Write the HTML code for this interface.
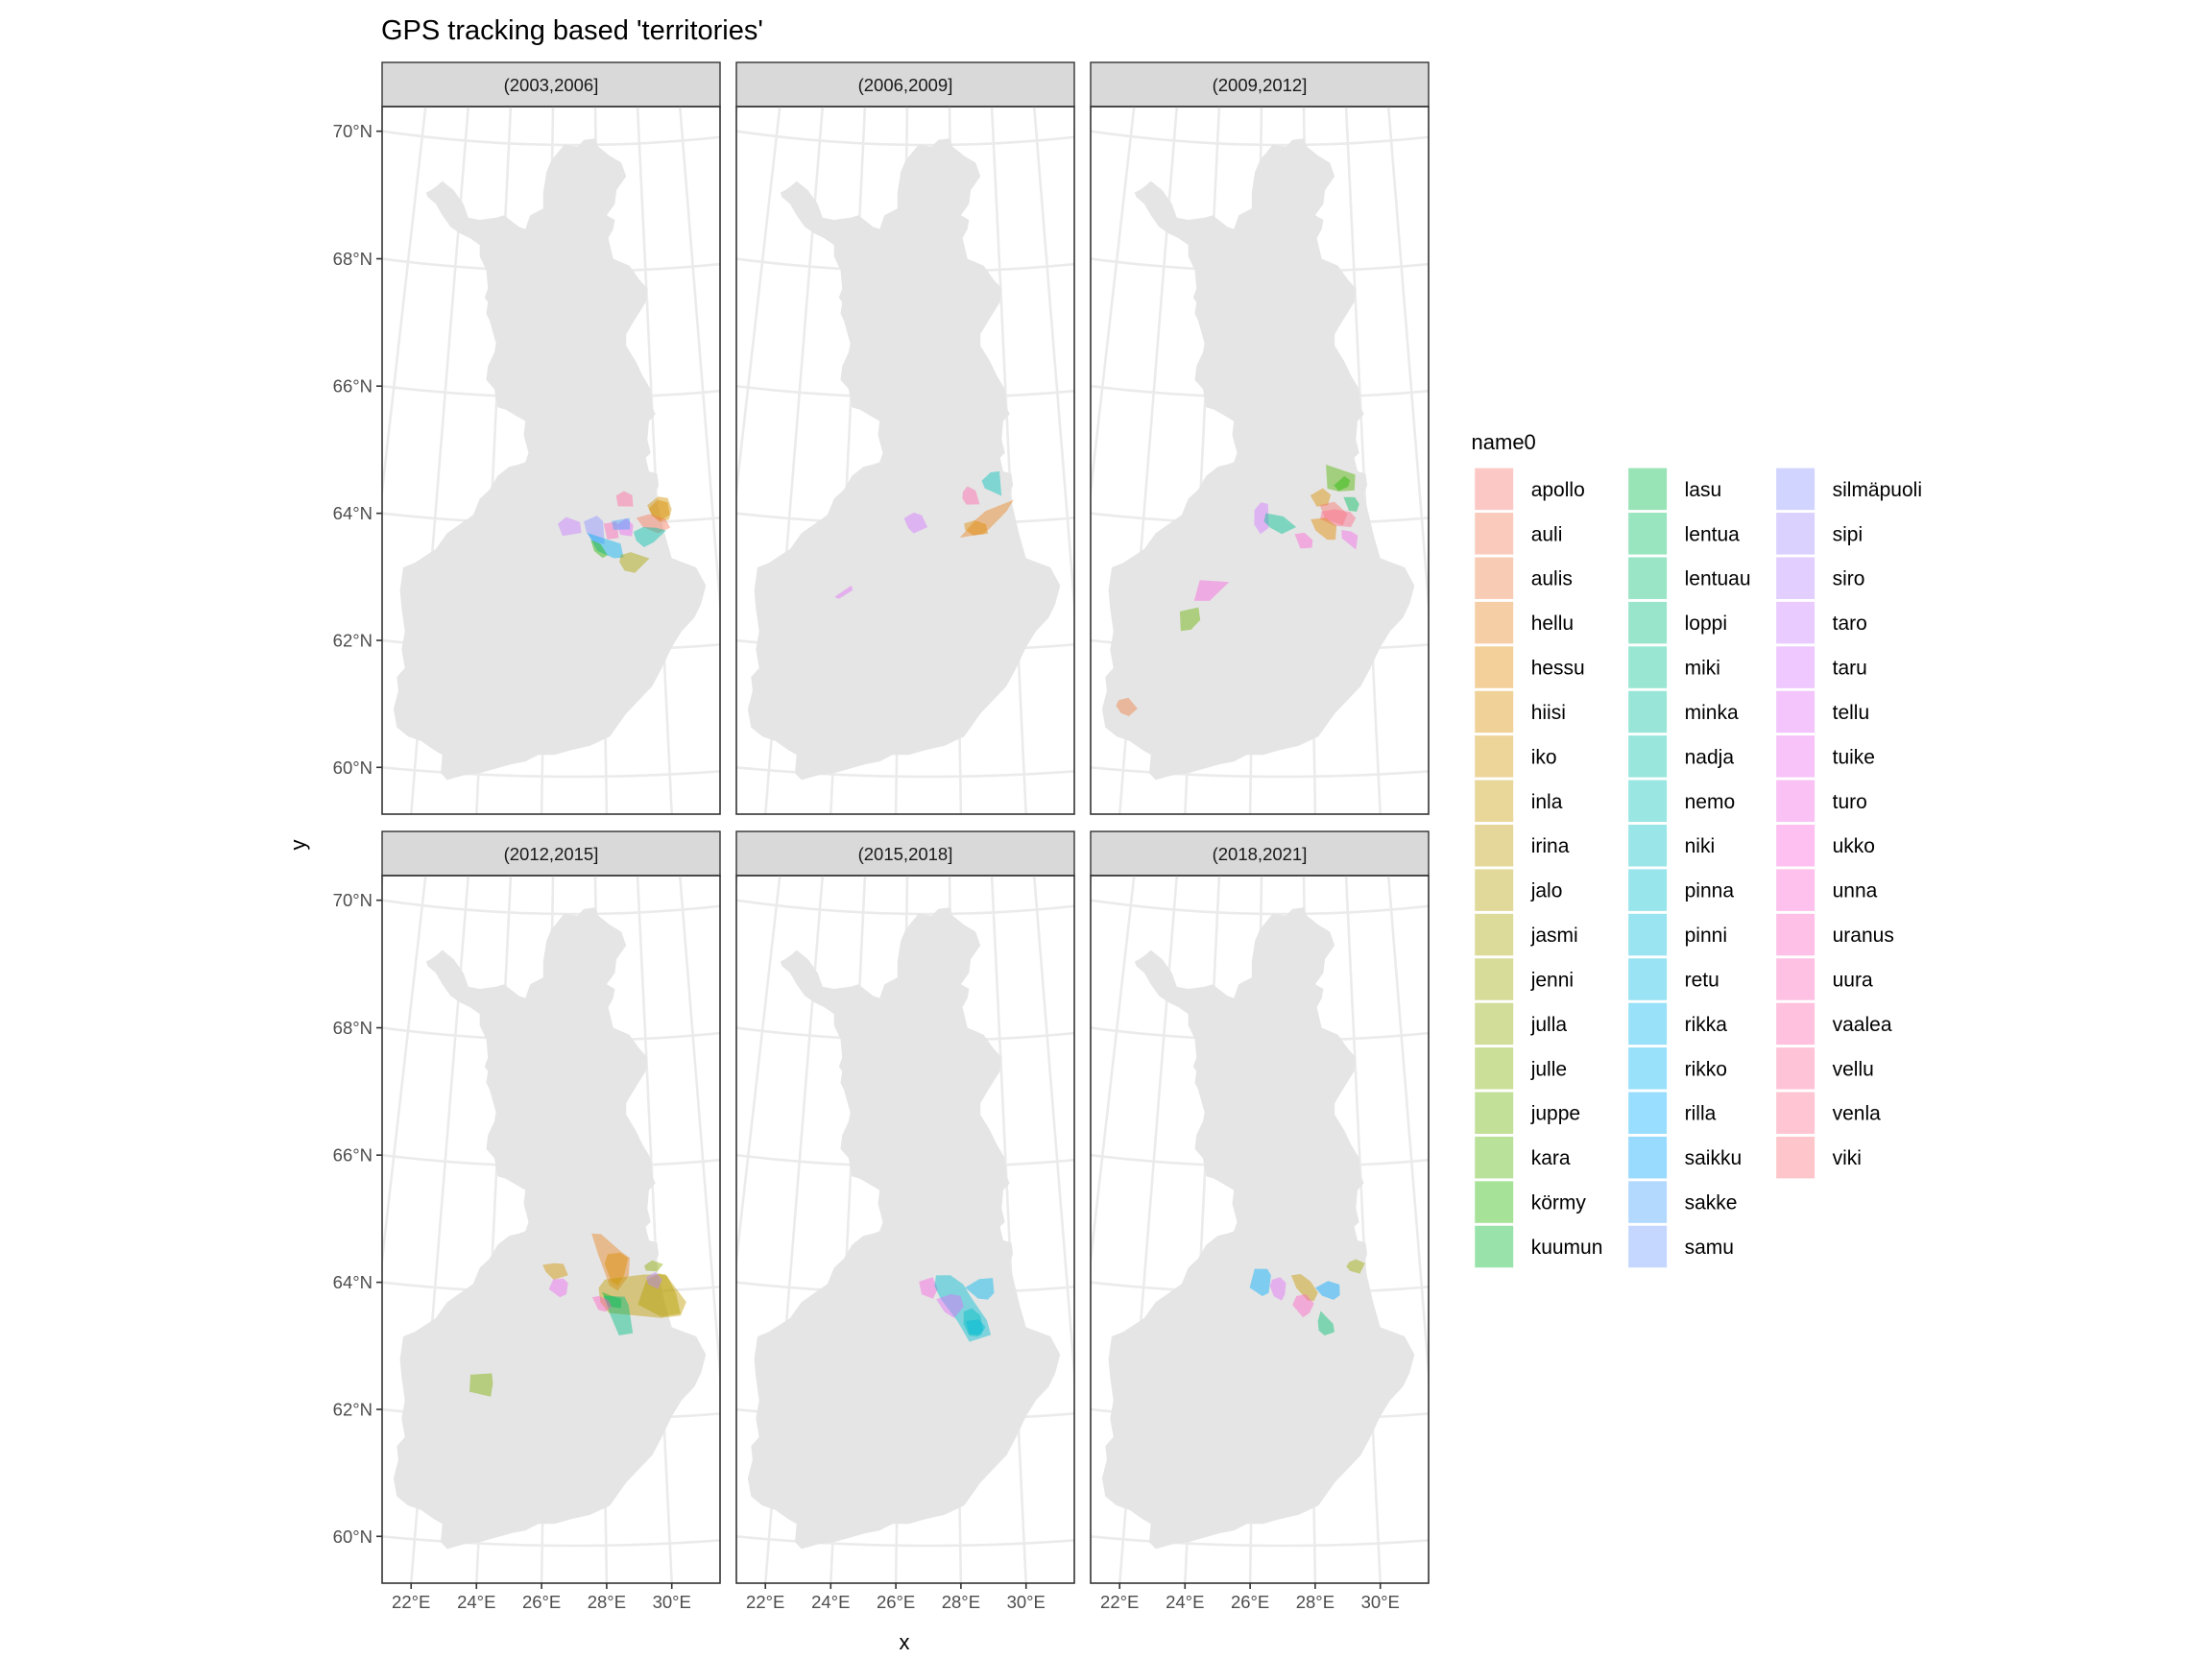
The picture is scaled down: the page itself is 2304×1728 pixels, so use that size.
<!DOCTYPE html>
<html><head><meta charset="utf-8"><style>
html,body{margin:0;padding:0;background:#fff;width:2304px;height:1728px;overflow:hidden;}
svg{display:block;font-family:"Liberation Sans",sans-serif;position:absolute;left:0;top:0;}
</style></head><body>
<svg id="chart" xmlns="http://www.w3.org/2000/svg" width="2304" height="1728" viewBox="0 0 2304 1728">
<rect x="0" y="0" width="2304" height="1728" fill="#fff"/>
<text x="397" y="41" font-size="29" fill="#000">GPS tracking based 'territories'</text>
<text x="942" y="1718" font-size="22" text-anchor="middle" fill="#000">x</text>
<text x="0" y="0" font-size="22" text-anchor="middle" fill="#000" transform="translate(318,880) rotate(-90)">y</text>
<defs id="defs"></defs>
<g id="panels"></g>
<g id="legend"></g>
</svg>
<script>
// ---- data ----
const panelLabels = ["(2003,2006]","(2006,2009]","(2009,2012]","(2012,2015]","(2015,2018]","(2018,2021]"];
const legendNames = ["apollo","auli","aulis","hellu","hessu","hiisi","iko","inla","irina","jalo","jasmi","jenni","julla","julle","juppe","kara","körmy","kuumun","lasu","lentua","lentuau","loppi","miki","minka","nadja","nemo","niki","pinna","pinni","retu","rikka","rikko","rilla","saikku","sakke","samu","silmäpuoli","sipi","siro","taro","taru","tellu","tuike","turo","ukko","unna","uranus","uura","vaalea","vellu","venla","viki"];
const latTicks = [60,62,64,66,68,70];
const lonTicks = [22,24,26,28,30];
const tPanel = [0,0,0,0,0,0,0,0,0,0,0,0,0, 1,1,1,1,1,1, 2,2,2,2,2,2,2,2,2,2,2,2,2,2, 3,3,3,3,3,3,3,3,3,3,3,3, 4,4,4,4,4,4, 5,5,5,5,5,5,5];
const tName = ["vellu","iko","hiisi","auli","taro","silmäpuoli","rikko","körmy","uura","tuike","sakke","nadja","jasmi",
 "nemo","vaalea","hellu","hessu","taru","tellu",
 "kara","körmy","hiisi","lentua","apollo","venla","hessu","turo","unna","taru","miki","ukko","juppe","aulis",
 "hellu","hiisi","iko","tuike","julla","irina","jalo","siro","kuumun","loppi","uranus","julle",
 "ukko","pinna","tellu","rikka","niki","pinni",
 "rilla","tellu","inla","uranus","saikku","lentuau","jenni"];
const tLon = [
 [28.53,28.82,29.12,29.14,28.59],[29.65,30.06,30.41,30.53,30.41,30.06,29.82],[29.7,30.05,30.4,30.45,30.1,29.8],[29.24,29.71,30.29,30.44,30.0,29.47],[26.41,26.71,27.21,27.26,26.59],[27.35,27.82,28.04,28.08,27.71,27.45],[27.47,28.18,28.65,28.74,28.41,27.82],[27.59,27.94,28.18,28.0,27.71],[28.06,28.53,28.59,28.18],[28.53,28.88,29.12,29.06,28.65],[28.35,29.0,29.0,28.41],[29.12,29.47,29.94,30.29,29.82,29.47,29.21],[28.65,29.0,29.65,29.12,28.76,28.59],
 [28.96,29.30,29.63,29.67,29.07],[28.26,28.43,28.73,28.86,28.38,28.24],[28.12,28.73,29.07,30.11,29.82,29.19,28.96],[28.28,28.67,29.07,29.13,28.61,28.32],[26.12,26.47,26.76,26.97,26.47,26.27],[23.77,24.33,24.39,23.92],
 [28.61,29.68,29.63,29.05,28.64],[28.88,29.28,29.48,29.40,29.05],[28.01,28.47,28.76,28.64,28.24],[29.22,29.63,29.78,29.68,29.40],[28.35,28.88,29.34,29.16,28.53],[28.41,28.88,29.45,29.63,29.45,28.88,28.35],[28.01,28.53,28.93,28.88,28.59,28.18],[29.11,29.45,29.68,29.59,29.11],[27.43,27.78,28.07,28.04,27.63],[25.98,26.21,26.47,26.50,26.21,25.98],[26.39,27.02,27.49,26.97,26.56,26.33],[24.12,25.14,24.49,23.96],[23.49,24.12,24.20,23.90,23.56],[21.67,21.98,22.30,22.04,21.78,21.60],
 [27.65,28.0,28.69,29.04,28.98,28.57,28.28,27.88],[28.23,28.69,28.98,28.81,28.57,28.34,28.11],[25.85,26.26,26.61,26.78,26.26,25.97],[26.24,26.61,26.78,26.72,26.49,26.09],[29.56,29.85,30.25,30.02,29.61],[27.88,28.11,29.5,30.31,31.0,30.77,30.08,28.23,27.94],[29.27,29.61,30.08,30.37,30.66,30.77,30.08],[29.61,29.96,30.19,30.02,29.67],[28.0,28.34,28.69,28.67,28.23],[28.05,28.81,28.94,29.06,28.57,28.28],[27.65,27.88,28.23,28.34,28.11,27.86],[23.45,24.18,24.23,24.18,23.45],
 [26.66,27.16,27.34,27.16,26.76],[27.28,27.80,28.26,28.49,29.07,29.19,28.43,28.03,27.45,27.22],[27.28,27.80,28.15,28.26,27.91,27.57],[28.32,28.84,29.33,29.36,29.13,28.78],[28.26,28.55,28.84,28.93,28.73,28.43,28.24],[28.32,28.78,29.01,28.84,28.43],
 [25.98,26.44,26.58,26.50,26.27,25.81],[26.62,26.91,27.12,27.08,26.97,26.68,26.54],[27.31,27.66,28.01,28.27,28.12,27.89,27.49],[27.49,27.83,28.12,27.95,27.72,27.35],[28.18,28.64,29.05,29.05,28.82,28.41],[28.24,28.35,28.78,28.82,28.47,28.27],[29.43,29.68,30.01,29.80,29.45,29.32]
];
const tLat = [
 [64.44,64.51,64.44,64.26,64.27],[64.27,64.40,64.37,64.19,64.03,64.00,64.11],[64.22,64.35,64.3,64.1,64.02,64.1],[64.08,64.13,64.04,63.90,63.82,63.93],[64.0,64.11,64.03,63.86,63.81],[64.04,64.13,64.04,63.68,63.71,63.86],[63.86,63.75,63.68,63.46,63.45,63.57],[63.75,63.68,63.50,63.46,63.57],[64.0,64.03,63.77,63.75],[63.98,64.08,63.97,63.79,63.82],[64.04,64.08,63.9,63.9],[63.86,63.93,63.91,63.86,63.68,63.61,63.72],[63.5,63.54,63.43,63.21,63.25,63.39],
 [64.67,64.80,64.81,64.42,64.55],[64.50,64.59,64.52,64.30,64.30,64.40],[63.78,64.07,64.19,64.35,64.17,63.91,63.83],[64.0,64.05,63.98,63.83,63.81,63.90],[64.09,64.18,64.14,63.95,63.85,63.94],[62.81,63.0,62.93,62.78],
 [64.93,64.76,64.51,64.50,64.55],[64.60,64.74,64.67,64.57,64.51],[64.45,64.56,64.45,64.29,64.27],[64.41,64.40,64.29,64.17,64.19],[64.29,64.34,64.14,63.96,64.07],[64.19,64.22,64.17,64.07,63.93,63.96,64.07],[64.07,64.09,63.96,63.74,63.74,63.89],[63.89,63.86,63.79,63.57,63.76],[63.84,63.86,63.74,63.62,63.61],[64.22,64.34,64.32,63.94,63.84,63.99],[64.17,64.12,63.95,63.84,63.94,64.04],[63.08,63.07,62.76,62.75],[62.57,62.65,62.45,62.29,62.26],[61.10,61.15,60.99,60.86,60.90,61.01],
 [64.94,64.93,64.66,64.54,64.26,64.03,64.11,64.61],[64.61,64.63,64.54,64.26,64.11,64.18,64.46],[64.44,64.47,64.46,64.28,64.21,64.33],[64.21,64.23,64.16,63.98,63.93,64.06],[64.41,64.49,64.42,64.31,64.33],[64.08,64.21,64.27,64.26,63.80,63.59,63.57,63.68,63.85],[63.80,64.18,64.28,64.23,63.94,63.62,63.59],[64.23,64.30,64.18,64.03,64.11],[64.01,63.95,63.90,63.75,63.78],[63.95,63.93,63.80,63.35,63.32,63.65],[63.93,63.95,63.88,63.78,63.70,63.73],[62.66,62.70,62.54,62.33,62.39],
 [64.18,64.25,64.06,63.91,63.98],[64.28,64.28,64.13,63.95,63.55,63.32,63.22,63.55,63.90,64.11],[63.90,63.98,63.95,63.78,63.60,63.70],[64.08,64.21,64.22,63.98,63.88,63.90],[63.70,63.75,63.63,63.40,63.30,63.32,63.50],[63.55,63.57,63.45,63.32,63.34],
 [64.38,64.38,64.28,64.0,63.95,64.08],[64.21,64.25,64.16,63.98,63.88,63.95,64.11],[64.28,64.30,64.18,64.0,63.87,63.88,64.08],[63.95,63.98,63.83,63.68,63.61,63.81],[64.08,64.18,64.12,63.95,63.88,63.95],[63.55,63.71,63.50,63.37,63.32,63.40],[64.47,64.51,64.44,64.28,64.33,64.40]
];
// basemap outline (traced)
const mapOutline = [[620,75],[655,72],[665,90],[700,110],[735,125],[750,155],[720,185],[715,215],[690,240],[715,250],[710,270],[695,290],[710,335],[760,350],[790,380],[815,400],[810,430],[775,470],[750,500],[750,525],[780,560],[800,590],[825,620],[830,660],[840,675],[820,690],[815,730],[825,760],[810,770],[820,800],[845,805],[850,830],[840,850],[870,940],[890,990],[965,1010],[995,1050],[980,1090],[960,1120],[920,1150],[890,1185],[860,1230],[830,1270],[790,1300],[750,1330],[700,1380],[640,1400],[580,1410],[530,1420],[480,1420],[440,1435],[400,1440],[350,1450],[300,1460],[250,1465],[200,1475],[180,1460],[185,1420],[160,1410],[120,1390],[80,1380],[45,1360],[35,1320],[50,1280],[45,1250],[70,1230],[60,1190],[70,1150],[60,1100],[55,1060],[65,1010],[100,1000],[165,970],[200,935],[240,915],[280,895],[300,860],[330,840],[355,810],[390,790],[420,785],[440,780],[450,760],[435,720],[440,690],[415,680],[380,665],[355,660],[345,620],[320,600],[325,570],[345,540],[350,520],[330,470],[320,455],[325,430],[315,420],[325,400],[320,360],[300,330],[300,305],[270,290],[240,280],[210,265],[185,240],[165,215],[140,200],[135,190],[150,185],[170,175],[185,165],[220,185],[250,215],[265,245],[300,250],[350,245],[375,240],[420,265],[440,270],[455,240],[495,225],[495,190],[505,145],[520,120],[560,85],[600,90]];

// ---- layout ----
const NS="http://www.w3.org/2000/svg";
const S=1.4807;
const colL=[398,767,1136], rowT=[111,912], PW=352, PH=737;
function el(tag,attrs,parent){const e=document.createElementNS(NS,tag);for(const k in attrs)e.setAttribute(k,attrs[k]);if(parent)parent.appendChild(e);return e;}
function proj(lon,lat){const th=0.924*(lon-27)*Math.PI/180;const r=1404+(70-lat)*65.8;return [200+r*Math.sin(th), r*Math.cos(th)-1364];}
function luv(h){const L=65,C=100,hr=h*Math.PI/180,u=C*Math.cos(hr),v=C*Math.sin(hr);
 const Xn=95.047,Yn=100,Zn=108.883,d=Xn+15*Yn+3*Zn,un=4*Xn/d,vn=9*Yn/d;
 const Y=Yn*Math.pow((L+16)/116,3),up=u/(13*L)+un,vp=v/(13*L)+vn;
 const X=Y*9*up/(4*vp),Z=Y*(12-3*up-20*vp)/(4*vp);
 const x=X/100,y=Y/100,z=Z/100;
 let rgb=[3.2406*x-1.5372*y-0.4986*z,-0.9689*x+1.8758*y+0.0415*z,0.0557*x-0.2040*y+1.0570*z];
 rgb=rgb.map(c=>{c=c<=0.0031308?12.92*c:1.055*Math.pow(c,1/2.4)-0.055;return Math.round(Math.max(0,Math.min(1,c))*255);});
 return "rgb("+rgb.join(",")+")";}
function colorOf(name){const i=legendNames.indexOf(name);return luv(15+360*i/legendNames.length);}

const panels=document.getElementById('panels'), defs=document.getElementById('defs');
const mapPts=mapOutline.map(p=>[p[0]/2.95,p[1]/2.1-1]);
for(let p=0;p<6;p++){
 const L=colL[p%3],T=rowT[Math.floor(p/3)];
 const cp=el('clipPath',{id:'clip'+p},defs); el('rect',{x:0,y:0,width:PW,height:PH},cp);
 const strip=el('rect',{x:L,y:T-46,width:PW,height:46,fill:'#d9d9d9',stroke:'#333',"stroke-width":1.4},panels);
 
 
 const st=el('text',{x:L+PW/2,y:T-16,"font-size":18.5,"text-anchor":"middle",fill:'#1a1a1a'},panels);
 st.textContent=panelLabels[p];
 
 
 const g=el('g',{transform:'translate('+L+','+T+')',"clip-path":'url(#clip'+p+')'},panels);
 
 
 for(let lon=18;lon<=36;lon+=2){let d='';for(let lat=56;lat<=73;lat+=0.5){const q=proj(lon,lat);d+=(d?'L':'M')+q[0].toFixed(1)+','+q[1].toFixed(1);}
  const m=el('path',{d:d,fill:'none',stroke:'#ebebeb',"stroke-width":2.6},g);
  
  }
 for(let lat=56;lat<=72;lat+=2){let d='';for(let lon=14;lon<=40;lon+=0.5){const q=proj(lon,lat);d+=(d?'L':'M')+q[0].toFixed(1)+','+q[1].toFixed(1);}
  const m=el('path',{d:d,fill:'none',stroke:'#ebebeb',"stroke-width":2.6},g);
  
  }
 const fin=el('polygon',{points:mapPts.map(q=>q[0].toFixed(1)+','+q[1].toFixed(1)).join(' '),fill:'#e5e5e5'},g);
 
 
 for(let t=0;t<tPanel.length;t++){ if(tPanel[t]!==p) continue;
  const pts=tLon[t].map((lo,k)=>proj(lo,tLat[t][k]));
  const poly=el('polygon',{points:pts.map(q=>q[0].toFixed(1)+','+q[1].toFixed(1)).join(' '),fill:colorOf(tName[t]),"fill-opacity":0.45,stroke:'none'},g);
  
  }
 const border=el('rect',{x:L,y:T,width:PW,height:PH,fill:'none',stroke:'#333',"stroke-width":1.6},panels);
 
 
 if(p%3===0){ for(const lat of latTicks){const r=1404+(70-lat)*65.8;const y=T+Math.sqrt(r*r-200*200)-1364;
   const tk=el('line',{x1:L-6,x2:L,y1:y,y2:y,stroke:'#333',"stroke-width":1.6},panels);
   
   
   const tl=el('text',{x:L-10,y:y+6.5,"font-size":18.5,"text-anchor":"end",fill:'#4d4d4d'},panels);
   tl.textContent=lat+'°N';
   
   }}
 if(p>=3){ for(const lon of lonTicks){const th=0.924*(lon-27)*Math.PI/180;const x=L+200+(PH+1364)*Math.tan(th);
   const tk=el('line',{x1:x,x2:x,y1:T+PH,y2:T+PH+6,stroke:'#333',"stroke-width":1.6},panels);
   
   
   const tl=el('text',{x:x,y:T+PH+26,"font-size":18.5,"text-anchor":"middle",fill:'#4d4d4d'},panels);
   tl.textContent=lon+'°E';
   
   }}
}
const lg=document.getElementById('legend');
const lt=el('text',{x:1035*S,y:316*S,"font-size":22,fill:'#000'},lg);
lt.textContent='name0';


const colX=[1037,1145,1249];
legendNames.forEach((n,i)=>{const c=Math.floor(i/18),r=i%18;const cy=(344+r*31.35)*S;
 const gi=el('g',{},lg);
 
 
 el('rect',{x:colX[c]*S,y:cy-22.5,width:28*S,height:45,fill:colorOf(n),"fill-opacity":0.4,stroke:'#fff',"stroke-width":1.5},gi);
 const tx=el('text',{x:(colX[c]+40)*S,y:cy+7.5,"font-size":21,fill:'#000'},gi);
 tx.textContent=n;});
</script>
</body></html>
